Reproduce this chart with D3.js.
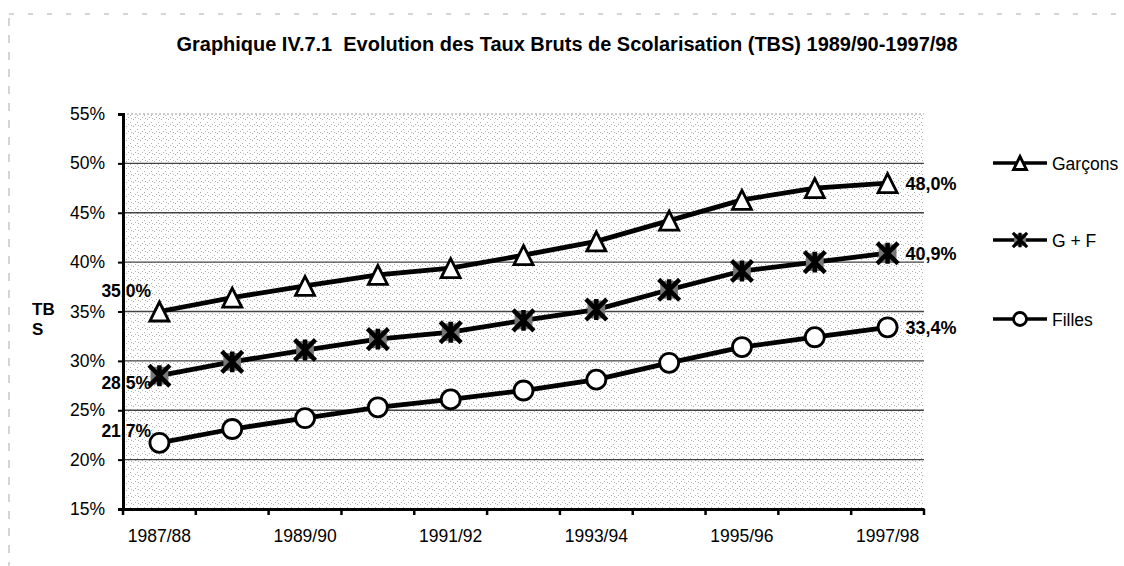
<!DOCTYPE html>
<html>
<head>
<meta charset="utf-8">
<script src="https://cdn.jsdelivr.net/npm/d3@7"></script>
<style>
  body { margin: 0; background: #fff; }
  svg { display: block; }
  text { font-family: "Liberation Sans", Arial, sans-serif; fill: #000; }
</style>
</head>
<body>
<script>
// data
var categories = ["1987/88", "1988/89", "1989/90", "1990/91", "1991/92", "1992/93",
                  "1993/94", "1994/95", "1995/96", "1996/97", "1997/98"];
var garcons = [35.0, 36.4, 37.6, 38.7, 39.4, 40.7, 42.1, 44.2, 46.3, 47.5, 48.0];
var gf      = [28.5, 29.9, 31.1, 32.2, 32.9, 34.1, 35.2, 37.2, 39.1, 40.0, 40.9];
var filles  = [21.7, 23.1, 24.2, 25.3, 26.1, 27.0, 28.1, 29.8, 31.4, 32.4, 33.4];
var seriesNames = ["Garçons", "G + F", "Filles"];
var yTicks = [15, 20, 25, 30, 35, 40, 45, 50, 55];

var width = 1124, height = 566;
var plotLeft = 123, plotRight = 924, plotTop = 114, plotBottom = 509;

var series = [
  { name: seriesNames[0], values: garcons, marker: "triangle", firstDy: -21 },
  { name: seriesNames[1], values: gf,      marker: "star",     firstDy: 7 },
  { name: seriesNames[2], values: filles,  marker: "circle",   firstDy: -12 }
];

function fmt(v) { return v.toFixed(1).replace(".", ",") + "%"; }

var svg = d3.select("body").append("svg")
  .attr("width", width)
  .attr("height", height);

// speckled fill of the plot area
var pat = svg.append("defs").append("pattern")
  .attr("id", "speck")
  .attr("patternUnits", "userSpaceOnUse")
  .attr("width", 7).attr("height", 7);
[[0, 0], [4, 3], [2, 5], [5, 6]].forEach(function (p) {
  pat.append("rect").attr("x", p[0]).attr("y", p[1])
    .attr("width", 1).attr("height", 1).attr("fill", "#b0b0b0");
});

// faint page border from the scan
svg.append("line")
  .attr("x1", 9).attr("y1", 18).attr("x2", 9).attr("y2", height)
  .style("stroke", "#aaa").style("stroke-width", 1).style("stroke-dasharray", "8,9");
svg.append("line")
  .attr("x1", 9).attr("y1", 14).attr("x2", width).attr("y2", 14)
  .style("stroke", "#aaa").style("stroke-width", 1).style("stroke-dasharray", "5,14");

var x = d3.scaleBand().domain(categories).range([plotLeft, plotRight]);
var y = d3.scaleLinear().domain([15, 55]).range([plotBottom, plotTop]);
var cx = function (i) { return x(categories[i]) + x.bandwidth() / 2; };

svg.append("rect")
  .attr("x", plotLeft).attr("y", plotTop)
  .attr("width", plotRight - plotLeft).attr("height", plotBottom - plotTop)
  .attr("fill", "url(#speck)");

// gridlines
svg.append("g").selectAll("line")
  .data(yTicks.filter(function (d) { return d > 15; }))
  .join("line")
  .attr("x1", plotLeft).attr("x2", plotRight)
  .attr("y1", function (d) { return y(d); })
  .attr("y2", function (d) { return y(d); })
  .style("stroke", function (d) { return d === 55 ? "#999" : "#444"; })
  .style("stroke-width", function (d) { return d === 55 ? 1 : 1.4; })
  .style("stroke-dasharray", function (d) { return d === 55 ? "2,2" : null; });

// title
svg.append("text")
  .attr("x", 567).attr("y", 51)
  .attr("text-anchor", "middle")
  .attr("textLength", 781)
  .attr("lengthAdjust", "spacingAndGlyphs")
  .style("font-family", "'Liberation Sans Narrow', 'Liberation Sans', Arial, sans-serif")
  .style("font-weight", "bold")
  .style("font-size", "20px")
  .style("white-space", "pre")
  .text("Graphique IV.7.1  Evolution des Taux Bruts de Scolarisation (TBS) 1989/90-1997/98");

// y axis
var yAxis = svg.append("g")
  .attr("transform", "translate(" + plotLeft + ",0)")
  .call(d3.axisLeft(y).tickValues(yTicks).tickFormat(function (d) { return d + "%"; })
    .tickSize(5).tickPadding(13));
yAxis.select(".domain").style("stroke", "#000").style("stroke-width", 3);
yAxis.selectAll(".tick line").style("stroke", "#000").style("stroke-width", 2);
yAxis.selectAll("text").style("font-size", "17.5px").style("font-family", "'Liberation Sans', Arial, sans-serif");

// x axis: labels every other year, ticks between categories
var xAxis = svg.append("g")
  .attr("transform", "translate(0," + plotBottom + ")")
  .call(d3.axisBottom(x).tickSize(0).tickPadding(21)
    .tickFormat(function (d, i) { return i % 2 === 0 ? d : ""; }));
xAxis.select(".domain").style("stroke", "#000").style("stroke-width", 3);
xAxis.selectAll("text").style("font-size", "17.5px").style("font-family", "'Liberation Sans', Arial, sans-serif");
xAxis.selectAll(".sep")
  .data(categories.concat(["end"]))
  .join("line")
  .attr("class", "sep")
  .attr("x1", function (d) { return d === "end" ? plotRight : x(d); })
  .attr("x2", function (d) { return d === "end" ? plotRight : x(d); })
  .attr("y1", 0).attr("y2", 6)
  .style("stroke", "#000").style("stroke-width", 2.5);

// axis title
svg.append("text").attr("x", 32).attr("y", 315)
  .style("font-weight", "bold").style("font-size", "17px").text("TB");
svg.append("text").attr("x", 32).attr("y", 335)
  .style("font-weight", "bold").style("font-size", "17px").text("S");

function drawMarker(g, type, size) {
  var s = size / 2;
  if (type === "triangle") {
    g.append("path")
      .attr("d", "M0," + (-s) + "L" + s + "," + s + "L" + (-s) + "," + s + "Z")
      .style("fill", "#fff").style("stroke", "#000").style("stroke-width", 2.8);
  } else if (type === "circle") {
    g.append("circle").attr("r", s)
      .style("fill", "#fff").style("stroke", "#000").style("stroke-width", 2.8);
  } else {
    // asterisk on a grey square, as in the scan
    var k = s * 1.1;
    g.append("rect").attr("x", -k * 0.85).attr("y", -k * 0.85)
      .attr("width", k * 1.7).attr("height", k * 1.7)
      .style("fill", "#777");
    g.append("path")
      .attr("d", "M" + (-k) + "," + (-k) + "L" + k + "," + k +
                 "M" + k + "," + (-k) + "L" + (-k) + "," + k +
                 "M0," + (-k) + "L0," + k)
      .style("stroke", "#000").style("stroke-width", size > 15 ? 4.5 : 3.2).style("fill", "none");
  }
}

var line = d3.line()
  .x(function (d, i) { return cx(i); })
  .y(function (d) { return y(d); });

series.forEach(function (s) {
  svg.append("path")
    .datum(s.values)
    .attr("d", line)
    .style("fill", "none")
    .style("stroke", "#000")
    .style("stroke-width", 4.8);

  svg.append("g").selectAll("g")
    .data(s.values)
    .join("g")
    .attr("transform", function (d, i) { return "translate(" + cx(i) + "," + y(d) + ")"; })
    .each(function () { drawMarker(d3.select(this), s.marker, 19); });

  var last = s.values.length - 1;
  // first value label (left of the point)
  svg.append("text")
    .attr("x", 151)
    .attr("y", y(s.values[0]) + s.firstDy + 6.5)
    .attr("text-anchor", "end")
    .style("font-weight", "bold").style("font-size", "17.5px")
    .text(fmt(s.values[0]));
  // last value label
  svg.append("text")
    .attr("x", cx(last) + 18)
    .attr("y", y(s.values[last]) + 6.5)
    .style("font-weight", "bold").style("font-size", "18px")
    .text(fmt(s.values[last]));
});

// legend
var legend = svg.append("g").selectAll("g")
  .data(series)
  .join("g")
  .attr("transform", function (d, i) { return "translate(993," + [163, 240, 319][i] + ")"; });
legend.append("line")
  .attr("x1", 0).attr("x2", 54).attr("y1", 0).attr("y2", 0)
  .style("stroke", "#000").style("stroke-width", 3.5);
legend.each(function (d) {
  var m = d3.select(this).append("g").attr("transform", "translate(27,0)");
  drawMarker(m, d.marker, 13);
});
legend.append("text")
  .attr("x", 59).attr("y", 6.5)
  .style("font-size", "17.5px")
  .text(function (d) { return d.name; });
</script>
</body>
</html>
